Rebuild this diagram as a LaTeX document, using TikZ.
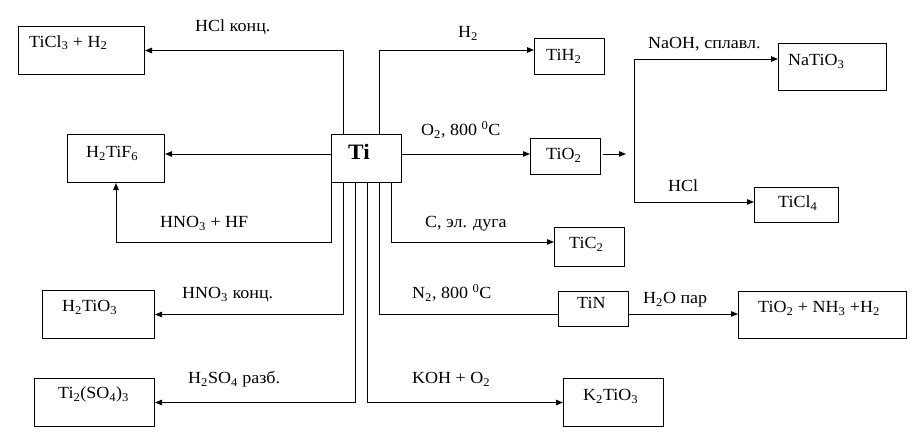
\documentclass[tikz,border=0pt]{standalone}
\usepackage{fontspec}
\setmainfont{Liberation Serif}[FakeStretch=1.06]
\usetikzlibrary{arrows.meta}
\newcommand\myLo[1]{\textsubscript{#1}}
\newcommand\myHi[1]{\textsuperscript{#1}}
\begin{document}
\begin{tikzpicture}[x=1pt,y=-1pt,
  font=\fontsize{17}{20}\selectfont,
  box/.style={draw,line width=1pt,inner sep=0pt,anchor=north west},
  lbl/.style={anchor=base west,inner sep=0pt},
  wire/.style={line width=1pt},
  arr/.style={wire,-{Triangle[length=7pt,width=5.5pt]}}]
\useasboundingbox[fill=white] (0,0) rectangle (918,447);
% boxes
\node[box,minimum width=126pt,minimum height=48pt] (ticl3) at (18,26) {};
\node[box,minimum width=70pt,minimum height=36pt] (tih2) at (534,38) {};
\node[box,minimum width=108pt,minimum height=47pt] (natio3) at (778,43) {};
\node[box,minimum width=70pt,minimum height=36pt] (tio2) at (530,138) {};
\node[box,minimum width=84pt,minimum height=35pt] (ticl4) at (754,187) {};
\node[box,minimum width=97pt,minimum height=48pt] (h2tif6) at (67,134) {};
\node[box,minimum width=70pt,minimum height=48pt] (ti) at (331,134) {};
\node[box,minimum width=70pt,minimum height=39pt] (tic2) at (554,227) {};
\node[box,minimum width=70pt,minimum height=35pt] (tin) at (558,291) {};
\node[box,minimum width=168pt,minimum height=47pt] (prod) at (738,291) {};
\node[box,minimum width=112pt,minimum height=48pt] (h2tio3) at (42,290) {};
\node[box,minimum width=120pt,minimum height=48pt] (ti2so4) at (34,378) {};
\node[box,minimum width=100pt,minimum height=48pt] (k2tio3) at (563,378) {};
% box texts
\node[lbl] (tticl3) at (29,47) {TiCl\myLo{3} + H\myLo{2}};
\node[lbl] (ttih2) at (546,60.5) {TiH\myLo{2}};
\node[lbl] (tnatio3) at (788,65.5) {NaTiO\myLo{3}};
\node[lbl] (ttio2) at (546,159.5) {TiO\myLo{2}};
\node[lbl] (tticl4) at (778,207.5) {TiCl\myLo{4}};
\node[lbl] (th2tif6) at (86,157.5) {H\myLo{2}TiF\myLo{6}};
\node[lbl,font=\fontsize{22}{24}\selectfont\bfseries] (tti) at (348,159.5) {Ti};
\node[lbl] (ttic2) at (569,248.5) {TiC\myLo{2}};
\node[lbl] (ttin) at (577,308.5) {TiN};
\node[lbl] (tprod) at (758,312.5) {TiO\myLo{2} + NH\myLo{3} +H\myLo{2}};
\node[lbl] (th2tio3) at (62,311.5) {H\myLo{2}TiO\myLo{3}};
\node[lbl] (tti2so4) at (58,398.5) {Ti\myLo{2}(SO\myLo{4})\myLo{3}};
\node[lbl] (tk2tio3) at (583,400.5) {K\myLo{2}TiO\myLo{3}};
% connector labels
\node[lbl] (lhcl) at (195,31) {HCl конц.};
\node[lbl] (lh2) at (458,37.5) {H\myLo{2}};
\node[lbl] (lnaoh) at (648,48.5) {NaOH, сплавл.};
\node[lbl] (lo2) at (421,135.5) {O\myLo{2}, 800 \myHi{0}C};
\node[lbl] (lhcl2) at (668,191.5) {HCl};
\node[lbl] (lhf) at (160,227.5) {HNO\myLo{3} + HF};
\node[lbl] (lc) at (425,227.5) {C, эл. дуга};
\node[lbl] (lhno3) at (182,298.5) {HNO\myLo{3} конц.};
\node[lbl] (ln2) at (412,298.5) {N\myLo{2}, 800 \myHi{0}C};
\node[lbl] (lh2o) at (643,303.5) {H\myLo{2}O пар};
\node[lbl] (lh2so4) at (188,383.5) {H\myLo{2}SO\myLo{4} разб.};
\node[lbl] (lkoh) at (412,383.5) {KOH + O\myLo{2}};
% free ends
\coordinate (tip) at (626,154);
\coordinate (fork) at (634,59);
% connectors
\draw[arr] (343,0 |- ti.north) |- (ticl3.east);
\draw[arr] (379,0 |- ti.north) |- (tih2.west |- 0,50);
\draw[arr] (ti.west |- 0,154) -- (h2tif6.east |- 0,154);
\draw[arr] (ti.east |- 0,154) -- (tio2.west |- 0,154);
\draw[arr] ([xshift=2pt]tio2.east |- 0,154) -- (tip);
\draw[arr] (fork) -- (natio3.west |- fork);
\draw[arr] (fork) |- (ticl4.west |- 0,202);
\draw[arr] (ti.south west) -- (ti.south west |- 0,242) -| (h2tif6.south);
\draw[arr] (391,0 |- ti.south) |- (tic2.west |- 0,242);
\draw[arr] (343,0 |- ti.south) |- (h2tio3.east);
\draw[wire] (379,0 |- ti.south) |- (tin.west |- 0,314);
\draw[arr] (tin.east |- 0,314) -- (prod.west |- 0,314);
\draw[arr] (355,0 |- ti.south) |- (ti2so4.east);
\draw[arr] (367,0 |- ti.south) |- (k2tio3.west);
\end{tikzpicture}
\end{document}
